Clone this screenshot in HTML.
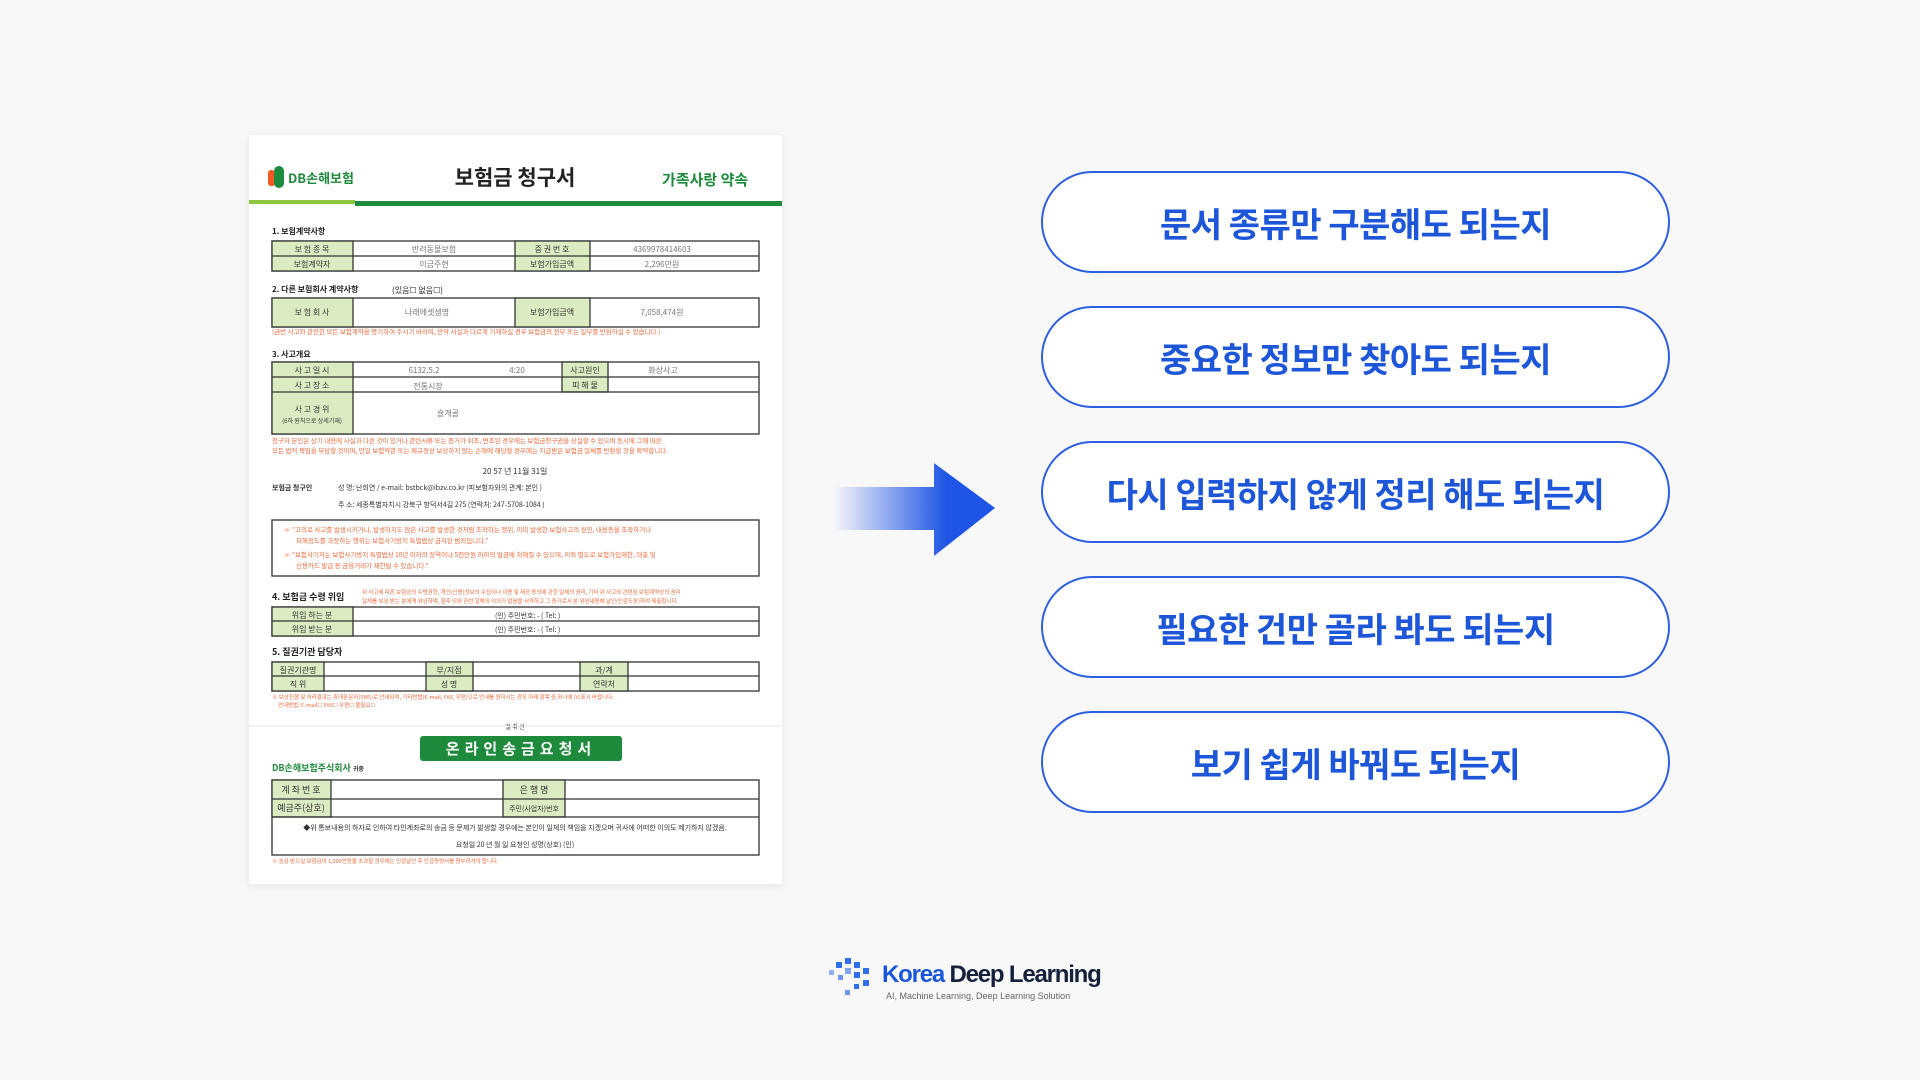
<!DOCTYPE html>
<html><head><meta charset="utf-8"><style>
body{margin:0;width:1920px;height:1080px;background:#f8f8f9;overflow:hidden;font-family:"Liberation Sans","Noto Sans CJK KR",sans-serif;position:relative}
.pill{position:absolute;left:1041px;width:629px;height:102px;border:2px solid #2d5fe0;border-radius:52px;box-sizing:border-box;background:#fff;display:flex;align-items:center;justify-content:center;font-size:34px;font-weight:bold;color:#1d56d8;font-family:"Noto Sans CJK KR",sans-serif;letter-spacing:-0.5px}
svg{position:absolute;left:0;top:0}
</style></head><body>
<div class="pill" style="top:171px">문서 종류만 구분해도 되는지</div>
<div class="pill" style="top:306px">중요한 정보만 찾아도 되는지</div>
<div class="pill" style="top:441px">다시 입력하지 않게 정리 해도 되는지</div>
<div class="pill" style="top:576px">필요한 건만 골라 봐도 되는지</div>
<div class="pill" style="top:711px">보기 쉽게 바꿔도 되는지</div>
<svg width="1920" height="1080" font-family="Noto Sans CJK KR, sans-serif">
<defs><linearGradient id="ag" x1="0" x2="1"><stop offset="0" stop-color="#1f55e6" stop-opacity="0"/><stop offset="0.7" stop-color="#1f55e6"/></linearGradient>
<filter id="sh"><feDropShadow dx="0" dy="2" stdDeviation="4" flood-opacity="0.08"/></filter></defs>
<path d="M833 487 H934 V463 L995 508 L934 556 V530 H833 Z" fill="url(#ag)"/>
<rect x="249" y="135" width="533" height="749" fill="#fff" filter="url(#sh)"/>
<rect x="268" y="170" width="7" height="16" fill="#f15a24" rx="3"/><rect x="274" y="166" width="10" height="22" fill="#1e8a3c" rx="5"/>
<text x="288" y="183" font-size="13" fill="#1e8a3c" font-weight="bold">DB손해보험</text>
<text x="515" y="185" font-size="21" font-weight="bold" text-anchor="middle" fill="#222">보험금 청구서</text>
<text x="662" y="185" font-size="15" fill="#1e8a3c" font-weight="bold">가족사랑 약속</text>
<rect x="249" y="200" width="106" height="4" fill="#8cc63f"/><rect x="355" y="201" width="427" height="5" fill="#1e8a3c"/>
<g font-size="8" fill="#222" font-weight="bold">
<text x="272" y="234">1. 보험계약사항</text><text x="272" y="292">2. 다른 보험회사 계약사항</text><text x="392" y="293" font-weight="normal">(있음☐ 없음☐)</text>
<text x="272" y="357">3. 사고개요</text><text x="272" y="600" font-size="9">4. 보험금 수령 위임</text><text x="272" y="655" font-size="9">5. 질권기관 담당자</text></g>
<g stroke="#333" stroke-width="1.3">
<rect x="272" y="241" width="487" height="30" fill="#fff"/>
<rect x="272" y="241" width="81" height="30" fill="#dbecc3"/><rect x="515" y="241" width="75" height="30" fill="#dbecc3"/><line x1="272" y1="256" x2="759" y2="256"/>
<rect x="272" y="298" width="487" height="29" fill="#fff"/><rect x="272" y="298" width="81" height="29" fill="#dbecc3"/><rect x="515" y="298" width="75" height="29" fill="#dbecc3"/>
<rect x="272" y="362" width="487" height="72" fill="#fff"/><rect x="272" y="362" width="81" height="72" fill="#dbecc3"/><rect x="562" y="362" width="46" height="30" fill="#dbecc3"/>
<line x1="272" y1="377" x2="759" y2="377"/><line x1="272" y1="392" x2="759" y2="392"/>
<rect x="272" y="520" width="487" height="56" fill="#fff"/>
<rect x="272" y="607" width="487" height="29" fill="#fff"/><rect x="272" y="607" width="81" height="29" fill="#dbecc3"/><line x1="272" y1="621" x2="759" y2="621"/>
<rect x="272" y="662" width="487" height="29" fill="#fff"/><rect x="272" y="662" width="52" height="29" fill="#dbecc3"/><rect x="426" y="662" width="47" height="29" fill="#dbecc3"/><rect x="580" y="662" width="48" height="29" fill="#dbecc3"/><line x1="272" y1="676" x2="759" y2="676"/>
<rect x="272" y="780" width="487" height="75" fill="#fff"/><rect x="272" y="780" width="59" height="37" fill="#dbecc3"/><rect x="503" y="780" width="62" height="37" fill="#dbecc3"/><line x1="272" y1="799" x2="759" y2="799"/><line x1="272" y1="817" x2="759" y2="817"/>
</g>
<g font-size="8" fill="#333" text-anchor="middle">
<text x="312" y="252">보 험 종 목</text><text x="312" y="267">보험계약자</text><text x="552" y="252">증 권 번 호</text><text x="552" y="267">보험가입금액</text>
<text x="434" y="252" fill="#777">반려동물보험</text><text x="434" y="267" fill="#777">이금주현</text><text x="662" y="252" fill="#777">4369978414603</text><text x="662" y="267" fill="#777">2,296만원</text>
<text x="312" y="315">보 험 회 사</text><text x="552" y="315">보험가입금액</text><text x="427" y="315" fill="#777">나래에셋생명</text><text x="662" y="315" fill="#777">7,058,474원</text>
<text x="312" y="373">사 고 일 시</text><text x="312" y="388">사 고 장 소</text><text x="312" y="412">사 고 경 위</text><text x="312" y="423" font-size="6">(6하 원칙으로 상세기재)</text>
<text x="585" y="373">사고원인</text><text x="585" y="388">피 해 물</text><text x="424" y="373" fill="#777">6132.5.2</text><text x="517" y="373" fill="#777">4:20</text><text x="663" y="373" fill="#777">화상사고</text><text x="428" y="389" fill="#777">전통시장</text><text x="448" y="416" fill="#777">슬개골</text>
<text x="312" y="618">위임 하는 분</text><text x="312" y="632">위임 받는 분</text>
<text x="298" y="673">질권기관명</text><text x="298" y="687">직 위</text><text x="449" y="673">부/지점</text><text x="449" y="687">성 명</text><text x="604" y="673">과/계</text><text x="604" y="687">연락처</text>
<text x="301" y="793" font-size="9">계 좌 번 호</text><text x="301" y="811" font-size="9">예금주(상호)</text><text x="534" y="793" font-size="9">은 행 명</text><text x="534" y="811" font-size="7">주민(사업자)번호</text>
<text x="515" y="474">20  57  년 11월 31일</text><text x="515" y="729" font-size="6">절 취 선</text>
<text x="515" y="830" font-size="7">◆위 통보내용의 하자로 인하여 타인계좌로의 송금 등 문제가 발생할 경우에는 본인이 일체의 책임을 지겠으며 귀사에 어떠한 이의도 제기하지 않겠음.</text>
<text x="515" y="847" font-size="7">요청일 20  년  월  일      요청인 성명(상호)                  (인)</text>
</g>
<g font-size="7" fill="#333"><text x="272" y="490" font-weight="bold">보험금 청구인</text><text x="338" y="490">성 명:    난희연    / e-mail:   bstbck@ibzv.co.kr        (피보험자와의 관계:  본인   )</text>
<text x="338" y="507">주 소:  세종특별자치시   강북구   항덕서4길  275  (연락처:  247-5708-1084   )</text>
<text x="495" y="618">(인)  주민번호:    -     ( Tel:          )</text><text x="495" y="632">(인)  주민번호:    -     ( Tel:          )</text></g>
<g font-size="6.5" fill="#f06a3c"><text x="272" y="334">(금번 사고와 관련한 모든 보험계약을 명기하여 주시기 바라며, 만약 사실과 다르게 기재하실 경우 보험금의 전부 또는 일부를 반환하실 수 있습니다.)</text>
<text x="272" y="443">청구자 본인은 상기 내용에 사실과 다른 것이 있거나 관련서류 또는 증거가 위조, 변조된 경우에는 보험금청구권을 상실할 수 있으며 동시에 그에 따른</text>
<text x="272" y="453">모든 법적 책임을 부담할 것이며, 만일 보험약관 또는 제규정상 보상하지 않는 손해에 해당할 경우에는 지급받은 보험금 일체를 반환할 것을 확약합니다.</text>
<text x="284" y="532">☞ "고의로 사고를 발생시키거나, 발생하지도 않은 사고를 발생한 것처럼 조작하는 행위, 이미 발생한 보험사고의 원인, 내용등을 조작하거나</text>
<text x="296" y="543">피해정도를 과장하는 행위는 보험사기방지 특별법상 금지된 범죄입니다."</text>
<text x="284" y="557">☞ "보험사기자는 보험사기방지 특별법상 10년 이하의 징역이나 5천만원 이하의 벌금에 처해질 수 있으며, 이와 별도로 보험가입제한, 대출 및</text>
<text x="296" y="568">신용카드 발급 등 금융거래가 제한될 수 있습니다."</text>
<text x="362" y="594" font-size="5.5">위 사고에 따른 보험금의 수령권한, 개인(신용)정보의 수집이나 이용 및 제공 동의에 관한 일체의 권리, 기타 위 사고와 관련된 보험계약상의 권리</text>
<text x="362" y="603" font-size="5.5">일체를 위임 받는 분에게 위임하며, 향후 이와 관련 일체의 이의가 없음을 서약하고 그 증거로서 본 위임내용에 날인(인감도장)하여 제출합니다.</text>
<text x="272" y="699" font-size="5.5">※ 보상진행 및 처리결과는 휴대폰문자(SMS)로 안내되며, 기타방법(E-mail, FAX, 우편)으로 안내를 원하시는 경우 아래 항목 중 하나에 (V)표시 바랍니다.</text>
<text x="278" y="707" font-size="5.5">안내방법: E-mail☐ FAX☐ 우편☐ 불필요☐</text>
<text x="272" y="863" font-size="5.5">※ 송금 받으실 보험금이 1,000만원을 초과할 경우에는 인감날인 후 인감증명서를 첨부하셔야 합니다.</text></g>
<line x1="249" y1="726" x2="782" y2="726" stroke="#e6e6e6"/>
<rect x="420" y="736" width="202" height="25" rx="3" fill="#1e8a3c"/><text x="521" y="754" font-size="15" fill="#fff" text-anchor="middle" font-weight="bold" letter-spacing="5">온라인송금요청서</text>
<text x="272" y="771" font-size="9" fill="#1e8a3c" font-weight="bold">DB손해보험주식회사 <tspan fill="#333" font-size="6">귀중</tspan></text>
<g fill="#2f6ef0"><rect x="836" y="962" width="6" height="6"/><rect x="845" y="958" width="6" height="6"/><rect x="854" y="962" width="6" height="6"/><rect x="863" y="968" width="6" height="6"/><rect x="845" y="968" width="6" height="6" opacity=".6"/><rect x="854" y="972" width="6" height="6"/><rect x="863" y="980" width="6" height="6"/><rect x="854" y="984" width="5" height="5"/><rect x="845" y="990" width="5" height="5" opacity=".7"/><rect x="829" y="970" width="5" height="5" opacity=".5"/><rect x="838" y="975" width="5" height="5" opacity=".7"/></g>
<text x="882" y="982" font-size="24" font-weight="bold" font-family="Liberation Sans, sans-serif" letter-spacing="-1.2" fill="#1a56db">Korea <tspan fill="#15213b">Deep Learning</tspan></text>
<text x="886" y="999" font-size="9" fill="#666" font-family="Liberation Sans, sans-serif">AI, Machine Learning, Deep Learning Solution</text>
</svg>
</body></html>
